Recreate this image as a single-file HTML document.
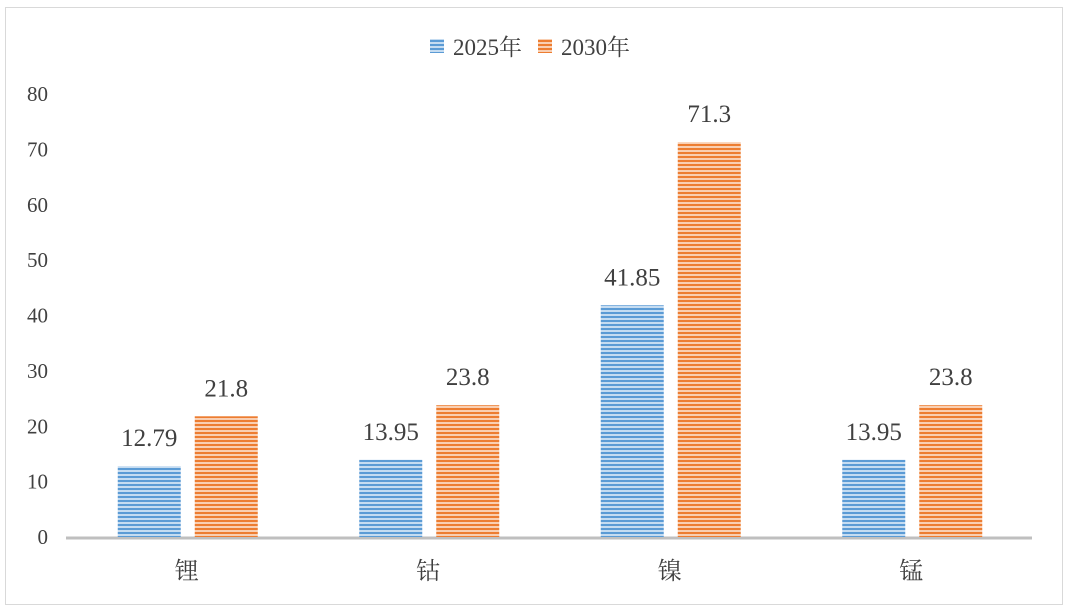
<!DOCTYPE html>
<html><head><meta charset="utf-8"><style>
body{margin:0;background:#fff}
svg{display:block;font-family:"Liberation Serif","Noto Serif CJK SC",serif}
</style></head><body>
<svg id="c" width="1068" height="611">
<defs>
<pattern id="pb" width="8" height="4" patternUnits="userSpaceOnUse"><rect width="8" height="4" fill="#c5dcf1"/><rect width="8" height="2" fill="#5b9bd5"/></pattern>
<pattern id="po" width="8" height="4" patternUnits="userSpaceOnUse"><rect width="8" height="4" fill="#f9cfb2"/><rect width="8" height="2" fill="#ed7d31"/></pattern>
</defs>
<rect x="5.5" y="7.5" width="1057" height="597" fill="#fff" stroke="#d9d9d9"/>
<g id="legend">
<rect x="430" y="39" width="14" height="14" fill="url(#pb)"/>
<text x="453" y="55" font-size="23" fill="#404040">2025年</text>
<rect x="538" y="39" width="14" height="14" fill="url(#po)"/>
<text x="561" y="55" font-size="23" fill="#404040">2030年</text>
</g>
<g id="plot"></g>
</svg>
<script>
const categories=["锂","钴","镍","锰"];
const s2025=[12.79,13.95,41.85,13.95];
const s2030=[21.8,23.8,71.3,23.8];
const yTicks=[0,10,20,30,40,50,60,70,80];
const NS="http://www.w3.org/2000/svg";
const g=document.getElementById('plot');
const x0=66,x1=1032,y0=537,yTop=94,yMax=80;
const yS=v=>y0-(v/yMax)*(y0-yTop);
const bw=(x1-x0)/categories.length;
const xC=i=>x0+bw*(i+0.5);
function mk(t,a,txt){const e=document.createElementNS(NS,t);for(const k in a)e.setAttribute(k,a[k]);if(txt!=null)e.textContent=txt;g.appendChild(e);return e;}
yTicks.forEach(t=>{
const e=mk('text',{x:48,y:yS(t)+7,'text-anchor':'end','font-size':21,fill:'#404040'},t);


});
const ax=mk('line',{x1:x0,x2:x1,y1:y0+1,y2:y0+1,stroke:'#bfbfbf','stroke-width':3});


categories.forEach((c,i)=>{
const cx=xC(i);
[[s2025,'pb',-69,'2025'],[s2030,'po',8,'2030']].forEach(([s,p,off,n])=>{
const v=s[i];
const r=mk('rect',{x:cx+off,y:yS(v),width:63,height:y0-yS(v),fill:'url(#'+p+')'});


const l=mk('text',{x:cx+off+31.5,y:yS(v)-20,'text-anchor':'middle','font-size':25,fill:'#404040'},v);


});
const t=mk('text',{x:cx,y:579,'text-anchor':'middle','font-size':24,fill:'#404040'},c);


});
</script>
</body></html>
